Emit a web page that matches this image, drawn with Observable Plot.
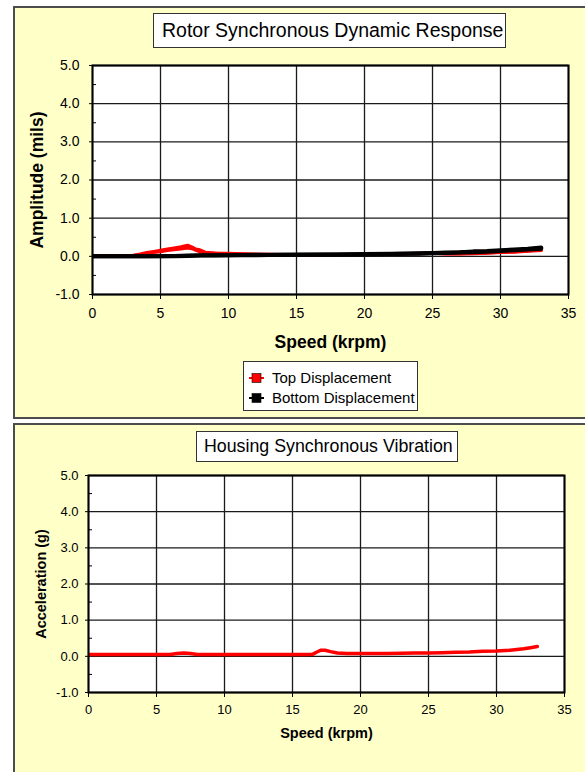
<!DOCTYPE html>
<html>
<head>
<meta charset="utf-8">
<script src="https://cdn.jsdelivr.net/npm/d3@7"></script>
<script src="https://cdn.jsdelivr.net/npm/@observablehq/plot@0.6"></script>
<style>
  html, body { margin: 0; padding: 0; background: #fff; }
  #page { position: relative; width: 585px; height: 772px; overflow: hidden;
          font-family: Arial, "Liberation Sans", sans-serif; color: #000; }
  .panel { position: absolute; left: 13px; width: 620px; background: #FFFFC8;
           border: 2px solid #4d4d4d; box-sizing: border-box; }
  .chart { position: absolute; left: 0; }
  .titlebox { position: absolute; background: #fff; border: 1.5px solid #333;
              box-sizing: border-box; white-space: nowrap; overflow: hidden; }
  .legend { position: absolute; background: #fff; border: 1.5px solid #333;
            box-sizing: border-box; font-size: 15px; }
  .legend .row { position: absolute; left: 0; height: 20px; line-height: 20px; white-space: nowrap; }
  .legend svg { position: absolute; left: 5px; top: 4px; }
  .legend span { position: absolute; left: 28px; }
</style>
</head>
<body>
<div id="page">
  <div class="panel" style="top:6px;height:413px"></div>
  <div class="panel" style="top:423px;height:420px"></div>
  <div id="rotor" class="chart" style="top:0"></div>
  <div id="housing" class="chart" style="top:420px"></div>
  <div class="titlebox" id="rotorTitle" style="left:153px;top:13px;width:353px;height:35px;font-size:19.5px;line-height:32px;padding-left:8px"></div>
  <div class="titlebox" id="housingTitle" style="left:196px;top:431px;width:262px;height:31px;font-size:17.8px;line-height:28px;padding-left:7px"></div>
  <div class="legend" id="legend" style="left:243px;top:361px;width:175px;height:50px"></div>
</div>
<script>
// Chart texts
const rotorTitle = "Rotor Synchronous Dynamic Response";
const housingTitle = "Housing Synchronous Vibration";
const speedLabel = "Speed (krpm)";
const amplitudeLabel = "Amplitude (mils)";
const accelLabel = "Acceleration (g)";
const seriesNames = ["Top Displacement", "Bottom Displacement"];
const seriesColors = ["#ff0000", "#000000"];

// Axis ticks
const speedTicks = [0, 5, 10, 15, 20, 25, 30, 35];
const yTicks = [-1, 0, 1, 2, 3, 4, 5];
const yMinorTicks = [-0.5, 0.5, 1.5, 2.5, 3.5, 4.5];

// Top displacement (mils), run-up and coast-down passes
const topSpeed = [0, 1, 2, 3, 3.5, 4, 4.5, 5, 5.5, 6, 6.5, 7, 7.3, 7.6, 7.9, 8.3, 9, 10, 11, 12, 14, 16, 18, 20, 22, 24, 25, 26, 27, 28, 29, 30, 31, 32, 33];
const topUp   = [0.02, 0.02, 0.02, 0.03, 0.06, 0.10, 0.13, 0.16, 0.19, 0.22, 0.25, 0.29, 0.25, 0.19, 0.17, 0.11, 0.09, 0.08, 0.07, 0.06, 0.05, 0.05, 0.05, 0.06, 0.06, 0.08, 0.09, 0.07, 0.07, 0.08, 0.09, 0.11, 0.12, 0.14, 0.17];
const topDown = [0.01, 0.01, 0.01, 0.02, 0.04, 0.07, 0.10, 0.12, 0.15, 0.17, 0.19, 0.22, 0.20, 0.16, 0.12, 0.09, 0.08, 0.07, 0.06, 0.05, 0.05, 0.04, 0.05, 0.05, 0.06, 0.07, 0.08, 0.06, 0.06, 0.07, 0.08, 0.10, 0.11, 0.13, 0.15];

// Bottom displacement (mils), run-up and coast-down passes
const bottomSpeed = [0, 2, 4, 6, 7, 8, 9, 10, 12, 14, 16, 18, 20, 22, 24, 25, 26, 27, 28, 29, 30, 31, 32, 33];
const bottomUp   = [0.00, 0.00, 0.00, 0.01, 0.02, 0.03, 0.03, 0.03, 0.04, 0.04, 0.05, 0.05, 0.06, 0.07, 0.08, 0.09, 0.10, 0.11, 0.13, 0.14, 0.16, 0.18, 0.20, 0.23];
const bottomDown = [0.00, 0.00, 0.00, 0.00, 0.01, 0.02, 0.02, 0.03, 0.03, 0.04, 0.04, 0.05, 0.05, 0.06, 0.07, 0.08, 0.09, 0.10, 0.11, 0.12, 0.14, 0.16, 0.18, 0.20];

// Housing acceleration (g)
const housingSpeed = [0, 2, 4, 6, 6.5, 7, 7.5, 8, 10, 12, 14, 16, 16.5, 16.8, 17.1, 17.4, 17.8, 18.3, 19, 20, 22, 24, 25, 26, 27, 28, 29, 30, 31, 32, 32.5, 33];
const housingAccel = [0.05, 0.05, 0.05, 0.05, 0.08, 0.09, 0.08, 0.05, 0.05, 0.05, 0.05, 0.05, 0.06, 0.12, 0.17, 0.17, 0.13, 0.09, 0.08, 0.08, 0.08, 0.09, 0.09, 0.10, 0.11, 0.12, 0.14, 0.15, 0.17, 0.21, 0.24, 0.27];

const rows = (speeds, values, pass) => speeds.map((s, i) => ({speed: s, value: values[i], pass}));
const topRows = [...rows(topSpeed, topUp, "up"), ...rows(topSpeed, topDown, "down")];
const bottomRows = [...rows(bottomSpeed, bottomUp, "up"), ...rows(bottomSpeed, bottomDown, "down")];
const housingRows = rows(housingSpeed, housingAccel, "up");

const fontFamily = 'Arial, "Liberation Sans", sans-serif';
const fmt = d => d.toFixed(1);

function chart({width, height, margins, lines, tickFont, titleFont, xTitleDy, yTitleDx, yTitle, xPad, yPad}) {
  return Plot.plot({
    width, height,
    marginTop: margins[0], marginRight: margins[1], marginBottom: margins[2], marginLeft: margins[3],
    x: {domain: [0, 35], label: null},
    y: {domain: [-1, 5], label: null},
    style: {background: "transparent", fontFamily, color: "#000", overflow: "visible"},
    marks: [
      Plot.frame({fill: "#fff"}),
      Plot.ruleX(speedTicks, {stroke: "#1a1a1a", strokeWidth: 1.3}),
      Plot.ruleY(yTicks, {stroke: "#1a1a1a", strokeWidth: 1.3}),
      ...lines,
      Plot.frame({stroke: "#000", strokeWidth: 2}),
      Plot.axisX(speedTicks, {tickSize: 5, tickPadding: xPad, fontSize: tickFont, label: null, stroke: "#000"}),
      Plot.axisY(yTicks, {tickSize: 3, tickPadding: yPad, fontSize: tickFont, tickFormat: fmt, label: null, stroke: "#000"}),
      Plot.axisY(yMinorTicks, {tickSize: 4, dx: 4, tickFormat: () => "", label: null, stroke: "#000"}),
      Plot.text([speedLabel], {frameAnchor: "bottom", dy: xTitleDy, lineAnchor: "middle", fontSize: titleFont, fontWeight: "bold"}),
      Plot.text([yTitle], {frameAnchor: "left", dx: yTitleDx, rotate: -90, textAnchor: "middle", lineAnchor: "middle", fontSize: titleFont, fontWeight: "bold"})
    ]
  });
}

const rotorChart = chart({
  width: 585, height: 360, margins: [65, 17, 66, 92],
  tickFont: 14, titleFont: 17.5, xTitleDy: 48, yTitleDx: -55, yTitle: amplitudeLabel, xPad: 9, yPad: 10,
  lines: [
    Plot.line(topRows, {x: "speed", y: "value", z: "pass", stroke: seriesColors[0], strokeWidth: 3, clip: true}),
    Plot.line(bottomRows, {x: "speed", y: "value", z: "pass", stroke: seriesColors[1], strokeWidth: 4, clip: true})
  ]
});
document.getElementById("rotor").appendChild(rotorChart);

const housingChart = chart({
  width: 585, height: 352, margins: [55, 21, 80, 88],
  tickFont: 13, titleFont: 14.5, xTitleDy: 41, yTitleDx: -47, yTitle: accelLabel, xPad: 7, yPad: 7,
  lines: [
    Plot.line(housingRows, {x: "speed", y: "value", stroke: seriesColors[0], strokeWidth: 3.5, clip: true})
  ]
});
document.getElementById("housing").appendChild(housingChart);

document.getElementById("rotorTitle").textContent = rotorTitle;
document.getElementById("housingTitle").textContent = housingTitle;

// Legend with line-and-square swatches
const legend = document.getElementById("legend");
seriesNames.forEach((name, i) => {
  const row = document.createElement("div");
  row.className = "row";
  row.style.top = (6 + i * 20) + "px";
  row.innerHTML =
    `<svg width="16" height="12"><line x1="0" y1="6" x2="15" y2="6" stroke="${seriesColors[i]}" stroke-width="2"/>` +
    `<rect x="3" y="1.5" width="9" height="9" fill="${seriesColors[i]}" stroke="#000" stroke-width="0.6"/></svg>` +
    `<span>${name}</span>`;
  legend.appendChild(row);
});
</script>
</body>
</html>
